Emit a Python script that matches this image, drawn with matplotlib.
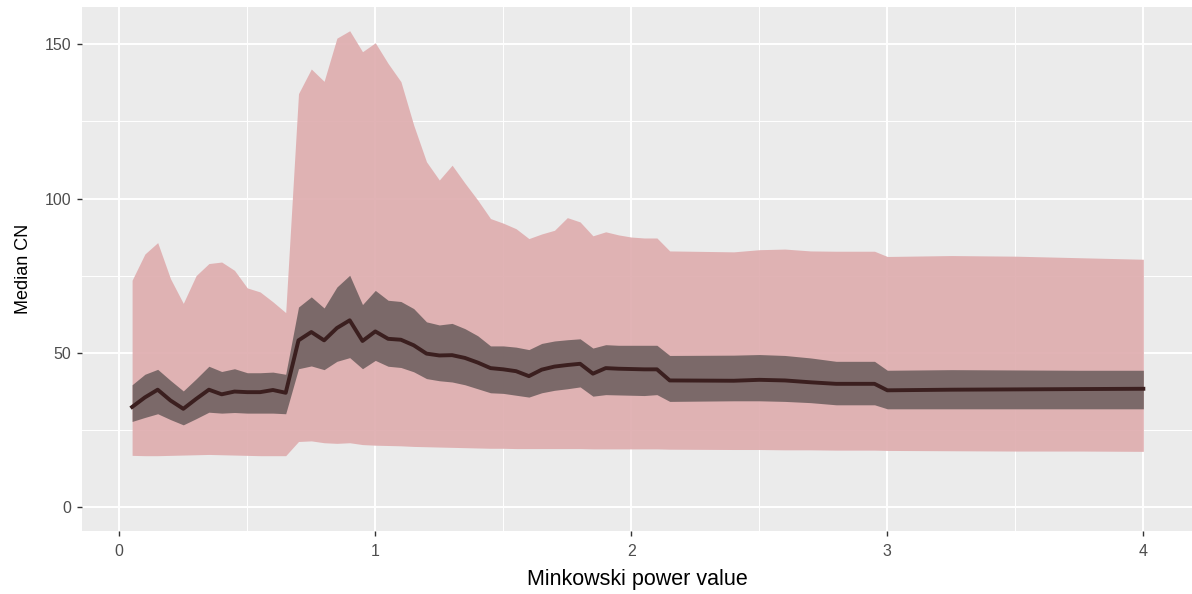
import matplotlib
matplotlib.use("Agg")
import matplotlib.pyplot as plt
from matplotlib.ticker import MultipleLocator

# Minkowski power values (x) and the summary curves
power = [0.05, 0.10, 0.15, 0.20, 0.25, 0.30, 0.35, 0.40, 0.45, 0.50,
         0.55, 0.60, 0.65, 0.70, 0.75, 0.80, 0.85, 0.90, 0.95, 1.00,
         1.05, 1.10, 1.15, 1.20, 1.25, 1.30, 1.35, 1.40, 1.45, 1.50,
         1.55, 1.60, 1.65, 1.70, 1.75, 1.80, 1.85, 1.90, 1.95, 2.00,
         2.05, 2.10, 2.15, 2.40, 2.50, 2.60, 2.70, 2.80, 2.95, 3.00,
         3.25, 3.50, 3.75, 4.00]

outer_hi = [73.5, 82.0, 85.7, 74.0, 66.0, 75.0, 78.9, 79.4, 76.7, 71.0,
            69.7, 66.5, 63.0, 134.0, 142.0, 138.0, 152.0, 154.4, 147.6, 150.5,
            143.8, 137.9, 123.8, 111.9, 106.0, 110.8, 105.0, 99.5, 93.5, 92.0,
            90.2, 87.0, 88.5, 89.7, 93.8, 92.4, 87.9, 89.2, 88.2, 87.5,
            87.2, 87.2, 83.0, 82.7, 83.4, 83.6, 83.0, 82.9, 82.9, 81.2,
            81.5, 81.3, 80.8, 80.3]

outer_lo = [16.7, 16.6, 16.6, 16.7, 16.8, 16.9, 17.0, 16.9, 16.8, 16.7,
            16.6, 16.6, 16.6, 21.2, 21.4, 20.8, 20.6, 20.8, 20.2, 20.0,
            19.9, 19.8, 19.6, 19.5, 19.4, 19.3, 19.2, 19.1, 19.0, 19.0,
            18.9, 18.9, 18.9, 18.9, 18.9, 18.9, 18.8, 18.8, 18.8, 18.8,
            18.8, 18.8, 18.7, 18.6, 18.6, 18.5, 18.5, 18.4, 18.4, 18.3,
            18.2, 18.1, 18.1, 18.0]

inner_hi = [39.6, 43.0, 44.6, 41.0, 37.6, 41.5, 45.6, 43.9, 44.8, 43.5,
            43.5, 43.7, 43.0, 64.8, 68.1, 64.5, 71.3, 75.1, 65.6, 70.2,
            67.0, 66.6, 64.3, 60.0, 59.0, 59.5, 57.8, 55.5, 52.2, 52.2,
            51.8, 51.0, 53.0, 53.8, 54.2, 54.5, 51.5, 52.6, 52.4, 52.4,
            52.4, 52.4, 49.1, 49.2, 49.4, 49.1, 48.3, 47.2, 47.2, 44.3,
            44.5, 44.4, 44.3, 44.3]

inner_lo = [27.7, 29.0, 30.2, 28.3, 26.6, 28.6, 30.7, 30.4, 30.6, 30.4,
            30.4, 30.4, 30.2, 44.8, 45.7, 44.5, 47.2, 48.4, 44.8, 47.5,
            45.6, 45.2, 43.8, 41.6, 40.9, 40.5, 39.6, 38.3, 37.0, 36.8,
            36.2, 35.6, 37.0, 37.8, 38.3, 38.9, 35.9, 36.4, 36.3, 36.2,
            36.1, 36.4, 34.2, 34.4, 34.4, 34.2, 33.8, 33.1, 33.1, 31.8,
            31.8, 31.8, 31.8, 31.8]

median_cn = [32.4, 35.5, 38.0, 34.5, 31.8, 35.0, 38.0, 36.5, 37.4, 37.2,
             37.2, 37.9, 37.0, 54.0, 56.7, 54.0, 58.0, 60.5, 53.8, 56.9,
             54.5, 54.2, 52.4, 49.7, 49.1, 49.2, 48.3, 46.8, 45.0, 44.6,
             44.0, 42.4, 44.5, 45.5, 46.0, 46.4, 43.2, 45.0, 44.8, 44.7,
             44.6, 44.6, 41.0, 40.9, 41.2, 41.0, 40.4, 39.9, 39.9, 37.8,
             38.0, 38.1, 38.2, 38.3]

plt.rcParams['font.family'] = ['Liberation Sans', 'DejaVu Sans']

fig = plt.figure(figsize=(11.92, 5.94), dpi=100)
ax = fig.add_axes([0.0684, 0.1066, 0.9332, 0.8816])
ax.set_facecolor('#EBEBEB')

ax.fill_between(power, outer_lo, outer_hi, color='#DFADAF', alpha=0.92, lw=0, zorder=2)
ax.fill_between(power, inner_lo, inner_hi, color='#736363', alpha=0.92, lw=0, zorder=3)
ax.plot(power, median_cn, color='#3B1F1F', lw=2.8, zorder=4)

ax.set_xlim(-0.1475, 4.1975)
ax.set_ylim(-7.72, 162.1)
ax.xaxis.set_major_locator(MultipleLocator(1))
ax.xaxis.set_minor_locator(MultipleLocator(0.5))
ax.yaxis.set_major_locator(MultipleLocator(50))
ax.yaxis.set_minor_locator(MultipleLocator(25))

ax.grid(which='major', color='white', lw=1.4, zorder=1)
ax.grid(which='minor', color='white', lw=0.7, zorder=1)
ax.set_axisbelow(True)
for s in ax.spines.values():
    s.set_visible(False)

ax.tick_params(which='major', length=3.6, width=1, color='#333333',
               labelcolor='#4D4D4D', labelsize=11.5)
ax.tick_params(axis='y', pad=4)
ax.tick_params(axis='x', pad=6)
ax.tick_params(which='minor', length=0)

ax.set_xlabel('Minkowski power value', fontsize=15.5, color='black', labelpad=7)
ax.set_ylabel('Median CN', fontsize=13, color='black', labelpad=9)

fig.savefig('out.png', dpi=100)
